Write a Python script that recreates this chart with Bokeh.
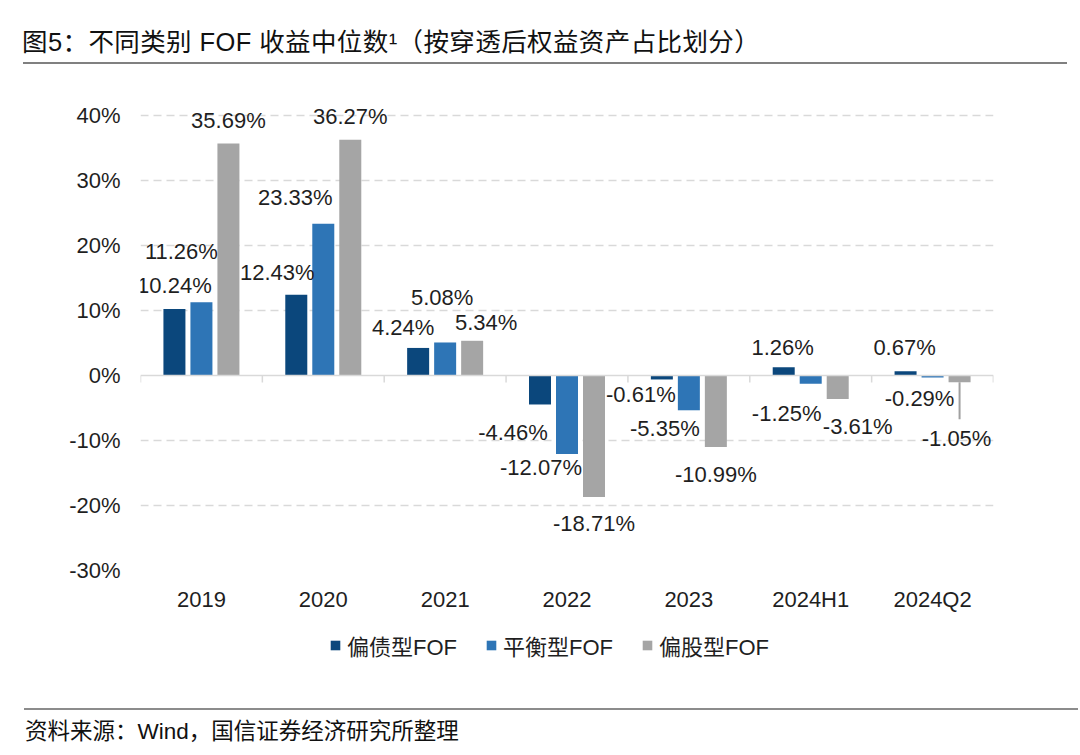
from bokeh.plotting import figure
from bokeh.layouts import column
from bokeh.models import (ColumnDataSource, FactorRange, Range1d, FixedTicker, PrintfTickFormatter,
                          LabelSet, Span, Legend, LegendItem, Div)
from bokeh.transform import dodge
from bokeh.core.properties import value
from bokeh.embed import file_html
from bokeh.resources import INLINE

# ---------------- data ----------------
categories = ["2019", "2020", "2021", "2022", "2023", "2024H1", "2024Q2"]
series_names = ["偏债型FOF", "平衡型FOF", "偏股型FOF"]
bond_fof = [10.24, 12.43, 4.24, -4.46, -0.61, 1.26, 0.67]
balanced_fof = [11.26, 23.33, 5.08, -12.07, -5.35, -1.25, -0.29]
equity_fof = [35.69, 36.27, 5.34, -18.71, -10.99, -3.61, -1.05]
y_ticks = [-30, -20, -10, 0, 10, 20, 30, 40]
title_text = "图5：不同类别 FOF 收益中位数¹（按穿透后权益资产占比划分）"
source_text = "资料来源：Wind，国信证券经济研究所整理"

# ---------------- styling / layout ----------------
colors = ["#0b477c", "#2e75b6", "#a5a5a5"]
label_dx = [[0, -19, -15, -27, -21, -1, -1],
            [-20, -28, -3, -26, -24, -24, -13],
            [0, 0, 14, 0, 0, 20, -3]]
label_dy = [[-23, -22, -20, 28, 15, -20, -24],
            [-51, -26, -45, 14, 18, 30, 21],
            [-23, -23, -18, 26, 28, 28, 56]]
W = 1078
TITLE_H, MAIN_H, LEG_H, FOOT_H = 70, 555, 70, 58
FL, FR = 140, 993                 # frame left/right (px)
F_TOP, F_BOT = 30, 500            # frame top/bottom inside main figure (px)
y_lo, y_hi = -30, 40              # value range mapped to px 570..115 on the page
px_per_unit = (570 - 115) / (y_hi - y_lo)
ymax = y_hi + (115 - (TITLE_H + F_TOP)) / px_per_unit
cat_px = (FR - FL) / len(categories)
offs = [-27 / cat_px, 0.0, 27 / cat_px]
bar_w = 22 / cat_px

NUM_FONT = "Liberation Sans"
MIX_FONT = "Liberation Sans, Noto Sans CJK SC"
CSS_FONT = "'Liberation Sans', 'Noto Sans CJK SC', sans-serif"
TXT = "#1f1f1f"

# ---- title strip ----
title_html = (
    f'<div style="position:relative;width:{W}px;height:{TITLE_H}px;margin:0;padding:0;">'
    f'<div style="position:absolute;left:22px;top:27px;font-family:{CSS_FONT};font-size:25.5px;'
    f'letter-spacing:0.4px;line-height:30px;color:#111111;white-space:nowrap;">{title_text}</div>'
    f'<div style="position:absolute;left:23px;top:62px;width:1044px;height:2px;background:#808080;"></div>'
    f'</div>')
title_div = Div(text=title_html, width=W, height=TITLE_H, margin=0)

# ---- main chart ----
p = figure(width=W, height=MAIN_H, x_range=FactorRange(*categories, range_padding=0),
           y_range=Range1d(y_lo, ymax), output_backend="svg", toolbar_location=None,
           min_border_left=FL, min_border_right=W - FR, min_border_top=F_TOP,
           min_border_bottom=MAIN_H - F_BOT, margin=0)
p.outline_line_color = None

p.xaxis.axis_line_color = None
p.xaxis.major_tick_line_color = None
p.xaxis.minor_tick_line_color = None
p.xaxis.major_label_text_font = NUM_FONT
p.xaxis.major_label_text_font_size = "22px"
p.xaxis.major_label_text_color = TXT
p.xaxis.major_label_standoff = 16
p.xaxis.major_tick_out = 0

p.yaxis.ticker = FixedTicker(ticks=y_ticks)
p.yaxis.formatter = PrintfTickFormatter(format="%d%%")
p.yaxis.axis_line_color = None
p.yaxis.major_tick_line_color = None
p.yaxis.minor_tick_line_color = None
p.yaxis.major_label_text_font = NUM_FONT
p.yaxis.major_label_text_font_size = "22px"
p.yaxis.major_label_text_color = TXT
p.yaxis.major_label_standoff = 20
p.yaxis.major_tick_out = 0

p.xgrid.grid_line_color = None
p.ygrid.ticker = FixedTicker(ticks=[v for v in y_ticks if v != 0])
p.ygrid.grid_line_color = "#d9d9d9"
p.ygrid.grid_line_width = 1.5
p.ygrid.grid_line_dash = "8 5"

p.add_layout(Span(location=0, dimension="width", line_color="#d9d9d9", line_width=1.5))
tick_len = 7 / px_per_unit
edge_src = ColumnDataSource(dict(cat=categories, y0=[0] * len(categories),
                                 y1=[-tick_len] * len(categories)))
p.segment(x0=dodge("cat", -0.5, range=p.x_range), x1=dodge("cat", -0.5, range=p.x_range),
          y0="y0", y1="y1", source=edge_src, line_color="#d9d9d9", line_width=1.5)
last_src = ColumnDataSource(dict(cat=categories[-1:], y0=[0], y1=[-tick_len]))
p.segment(x0=dodge("cat", 0.499, range=p.x_range), x1=dodge("cat", 0.499, range=p.x_range),
          y0="y0", y1="y1", source=last_src, line_color="#d9d9d9", line_width=1.5)

for i, vals in enumerate([bond_fof, balanced_fof, equity_fof]):
    src = ColumnDataSource(dict(
        cat=categories, val=vals, txt=[f"{v:.2f}%" for v in vals],
        xo=label_dx[i], yo=[-d for d in label_dy[i]]))
    p.vbar(x=dodge("cat", offs[i], range=p.x_range), top="val", bottom=0, width=bar_w,
           source=src, fill_color=colors[i], line_color=None)
    p.add_layout(LabelSet(x=dodge("cat", offs[i], range=p.x_range), y="val", text="txt",
                          x_offset="xo", y_offset="yo", source=src,
                          text_align="center", text_baseline="middle",
                          text_font=value(NUM_FONT), text_font_size="22px", text_color=TXT))

lead_src = ColumnDataSource(dict(cat=categories[-1:], y0=[equity_fof[-1]],
                                 y1=[equity_fof[-1] - 37 / px_per_unit]))
p.segment(x0=dodge("cat", offs[2], range=p.x_range), x1=dodge("cat", offs[2], range=p.x_range),
          y0="y0", y1="y1", source=lead_src, line_color="#a0a0a0", line_width=2)

# ---- legend strip (same frame as main chart; swatch renderers sit outside its y-range) ----
lg = figure(width=W, height=LEG_H, x_range=FactorRange(*categories, range_padding=0),
            y_range=Range1d(0, 1), output_backend="svg", toolbar_location=None,
            min_border_left=FL, min_border_right=W - FR, min_border_top=0,
            min_border_bottom=0, margin=0)
lg.axis.visible = False
lg.grid.visible = False
lg.outline_line_color = None
leg_src = ColumnDataSource(dict(cat=categories[:1], top=[-1], bottom=[-2]))
leg_rs = [lg.vbar(x="cat", top="top", bottom="bottom", width=bar_w, source=leg_src,
                  fill_color=c, line_color=None)
          for c in colors]
legend = Legend(items=[LegendItem(label=series_names[i], renderers=[leg_rs[i]]) for i in range(3)],
                orientation="horizontal", location=(189, LEG_H - 36), margin=0, padding=0,
                glyph_width=12, glyph_height=12, label_standoff=6, spacing=28,
                label_text_font=MIX_FONT, label_text_font_size="22px",
                label_text_color=TXT, border_line_color=None, background_fill_alpha=0)
lg.add_layout(legend, "center")

# ---- footer strip ----
foot_html = (
    f'<div style="position:relative;width:{W}px;height:{FOOT_H}px;margin:0;padding:0;">'
    f'<div style="position:absolute;left:24px;top:13px;width:{W - 24}px;height:2px;background:#8c8c8c;"></div>'
    f'<div style="position:absolute;left:25px;top:23px;font-family:{CSS_FONT};font-size:22.5px;'
    f'line-height:28px;color:#111111;white-space:nowrap;">{source_text}</div>'
    f'</div>')
foot_div = Div(text=foot_html, width=W, height=FOOT_H, margin=0)

layout = column(title_div, p, lg, foot_div, spacing=0)
open("out.html", "w").write(file_html(layout, INLINE))
